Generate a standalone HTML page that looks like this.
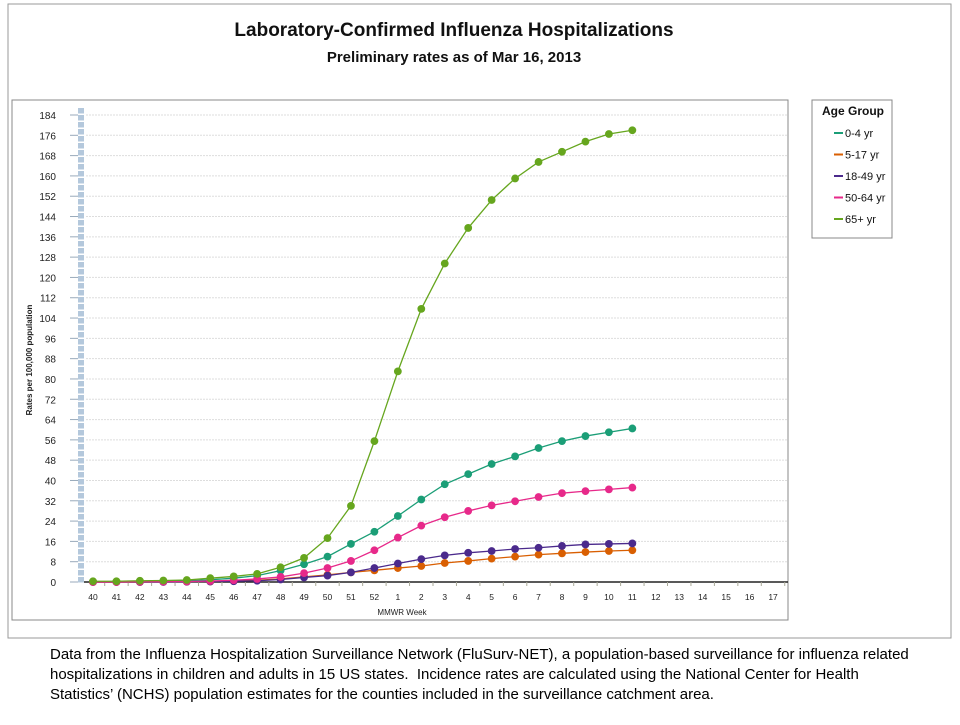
<!DOCTYPE html>
<html><head><meta charset="utf-8"><style>
body{margin:0;background:#fff;width:960px;height:720px;overflow:hidden;font-family:"Liberation Sans",Arial,sans-serif}
</style></head><body>
<svg width="960" height="720" xmlns="http://www.w3.org/2000/svg" font-family="Liberation Sans, Arial, sans-serif">
<rect x="8" y="4" width="943" height="634" fill="#fff" stroke="#999"/>
<text x="454" y="36" text-anchor="middle" font-size="19" font-weight="bold" fill="#111">Laboratory-Confirmed Influenza Hospitalizations</text>
<text x="454" y="62" text-anchor="middle" font-size="15" font-weight="bold" fill="#111">Preliminary rates as of Mar 16, 2013</text>
<rect x="12" y="100" width="776" height="520" fill="#fff" stroke="#888"/>
<g id="grid"></g>
<g id="axes"></g>
<g id="series"></g>
<text x="402" y="615" text-anchor="middle" font-size="8" fill="#222">MMWR Week</text>
<text transform="translate(32,360) rotate(-90)" text-anchor="middle" font-size="8" font-weight="bold" fill="#222">Rates per 100,000 population</text>
<g>
<rect x="812" y="100" width="80" height="138" fill="#fff" stroke="#888"/>
<text x="822" y="115" font-size="12" font-weight="bold" fill="#111">Age Group</text>
<g id="legend-items"></g>
</g>
</svg>
<div style="position:absolute;left:50px;top:645px;width:866px;font-size:15px;line-height:20px;color:#000">Data from the Influenza Hospitalization Surveillance Network (FluSurv-NET), a population-based surveillance for influenza related hospitalizations in children and adults in 15 US states.&nbsp; Incidence rates are calculated using the National Center for Health Statistics’ (NCHS) population estimates for the counties included in the surveillance catchment area.</div>
<script>
const weeks=["40","41","42","43","44","45","46","47","48","49","50","51","52","1","2","3","4","5","6","7","8","9","10","11","12","13","14","15","16","17"];
const yTicks=[0,8,16,24,32,40,48,56,64,72,80,88,96,104,112,120,128,136,144,152,160,168,176,184];
const seriesNames=["0-4 yr","5-17 yr","18-49 yr","50-64 yr","65+ yr"];
const seriesColors=["#1b9e77","#d95f02","#4b2a8c","#e7298a","#66a61e"];
const s0_4=[0.1,0.1,0.2,0.3,0.5,0.9,1.5,2.5,4.5,7,10,15,19.8,26,32.5,38.5,42.5,46.5,49.5,52.8,55.5,57.5,59,60.5];
const s5_17=[0,0,0,0.1,0.1,0.2,0.4,0.7,1.2,2,2.8,3.8,4.6,5.5,6.3,7.5,8.3,9.2,10,10.8,11.3,11.8,12.2,12.5];
const s18_49=[0,0,0,0,0.1,0.2,0.3,0.5,1,1.8,2.5,3.8,5.5,7.3,9,10.5,11.5,12.2,13,13.5,14.2,14.8,15,15.2];
const s50_64=[0,0,0.1,0.1,0.2,0.4,0.7,1.2,2,3.5,5.5,8.3,12.5,17.5,22.2,25.5,28,30.2,31.8,33.5,35,35.8,36.5,37.2];
const s65=[0.3,0.3,0.5,0.6,0.8,1.5,2.2,3.2,5.8,9.5,17.3,30,55.5,83,107.6,125.5,139.5,150.5,159,165.5,169.5,173.5,176.5,178];
const allSeries=[s0_4,s5_17,s18_49,s50_64,s65];
const NS="http://www.w3.org/2000/svg";
const x=i=>93+i*23.45;
const y=v=>582-v*(467/184);
function mk(t,a,p){const e=document.createElementNS(NS,t);for(const k in a)e.setAttribute(k,a[k]);p.appendChild(e);return e;}
const grid=document.getElementById('grid'),axes=document.getElementById('axes'),ser=document.getElementById('series'),leg=document.getElementById('legend-items');
for(let k=0;k<Math.round((582-108)/7);k++){const r=mk('rect',{x:78,y:108+k*7,width:6,height:5.5,fill:'#b4c8dc'},axes);}
yTicks.forEach(v=>{
 if(v>0){const l=mk('line',{x1:86,x2:788,y1:y(v),y2:y(v),stroke:'#ddd','stroke-dasharray':'2,1'},grid);}
 const tk=mk('line',{x1:70,x2:78,y1:y(v),y2:y(v),stroke:'#9ab'},axes);
 const t=mk('text',{x:56,y:y(v)+4,'text-anchor':'end','font-size':10,fill:'#222'},axes);t.textContent=v;
});
const xa=mk('line',{x1:84,x2:788,y1:582,y2:582,stroke:'#222','stroke-width':1.5},axes);
weeks.forEach((w,i)=>{
 const tk=mk('line',{x1:x(i)+11.7,x2:x(i)+11.7,y1:582,y2:586,stroke:'#aa9'},axes);
 const t=mk('text',{x:x(i),y:600,'text-anchor':'middle','font-size':8.5,fill:'#222'},axes);t.textContent=w;
});
allSeries.forEach((d,si)=>{
 const c=seriesColors[si];
 const g=mk('g',{},ser);
 const pl=mk('polyline',{points:d.map((v,i)=>x(i)+','+y(v)).join(' '),fill:'none',stroke:c,'stroke-width':1.3},g);
 d.forEach((v,i)=>{const p=mk('circle',{cx:x(i),cy:y(v),r:3.9,fill:c},g);});
 const ly=133+si*21.5;
 const ll=mk('line',{x1:834,x2:843,y1:ly,y2:ly,stroke:c,'stroke-width':2},leg);
 const lt=mk('text',{x:845,y:ly+4,'font-size':11,fill:'#111'},leg);lt.textContent=seriesNames[si];
});
</script>
</body></html>
